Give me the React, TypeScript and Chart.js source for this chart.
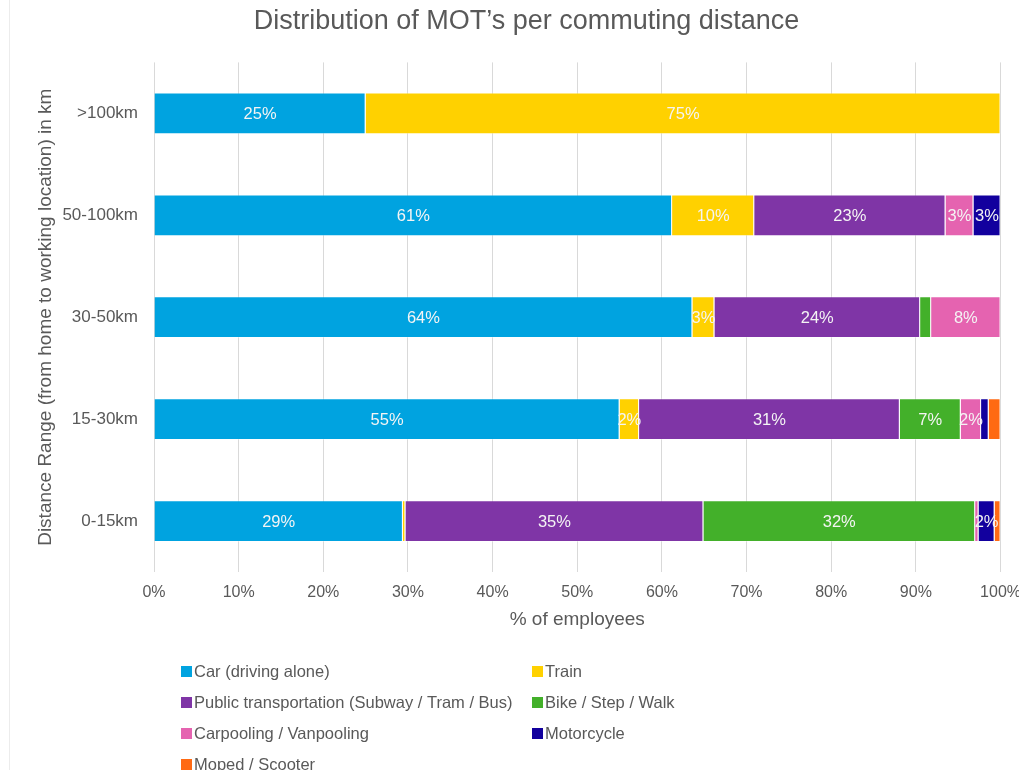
import { useEffect, useRef } from 'react';
import { Chart, registerables } from 'chart.js';

Chart.register(...registerables);

const categories = ['>100km', '50-100km', '30-50km', '15-30km', '0-15km'];
const seriesNames = [
  'Car (driving alone)',
  'Train',
  'Public transportation (Subway / Tram / Bus)',
  'Bike / Step / Walk',
  'Carpooling / Vanpooling',
  'Motorcycle',
  'Moped / Scooter',
];
const car = [25, 61.2, 63.6, 55.0, 29.4];
const train = [75, 9.7, 2.6, 2.3, 0.3];
const publicTransport = [0, 22.6, 24.3, 30.8, 35.2];
const bike = [0, 0, 1.3, 7.2, 32.1];
const carpool = [0, 3.3, 8.2, 2.4, 0.4];
const motorcycle = [0, 3.2, 0, 0.9, 1.9];
const moped = [0, 0, 0, 1.4, 0.7];
const seriesValues = [car, train, publicTransport, bike, carpool, motorcycle, moped];
const seriesColors = ['#00A3E0', '#FFD100', '#7F35A6', '#43B02A', '#E563B0', '#12009E', '#FF6A13'];

const xTickValues = [0, 10, 20, 30, 40, 50, 60, 70, 80, 90, 100];

const FONT = '"Liberation Sans", Arial, Helvetica, sans-serif';
const TEXT = '#595959';

const barLabels = {
  id: 'barLabels',
  afterDatasetsDraw(chart: any) {
    const ctx = chart.ctx;
    ctx.save();
    ctx.font = `16.5px ${FONT}`;
    ctx.fillStyle = '#f4f4f4';
    ctx.textAlign = 'center';
    ctx.textBaseline = 'middle';
    chart.data.datasets.forEach((ds: any, i: number) => {
      const meta = chart.getDatasetMeta(i);
      meta.data.forEach((el: any, j: number) => {
        const v = ds.data[j];
        if (v < 1.5) return;
        const p = el.getProps(['x', 'base', 'y'], true);
        ctx.fillText(Math.round(v) + '%', (p.x + p.base) / 2, p.y + 1);
      });
    });
    ctx.restore();
  },
};

const gridLegend = {
  id: 'gridLegend',
  afterDraw(chart: any) {
    const { ctx, chartArea } = chart;
    const x0 = chartArea.left + 27;
    const colW = 351;
    const y0 = chartArea.bottom + 99;
    const rowH = 31;
    ctx.save();
    ctx.font = `16.5px ${FONT}`;
    ctx.textAlign = 'left';
    ctx.textBaseline = 'middle';
    chart.data.datasets.forEach((ds: any, i: number) => {
      const col = i % 2;
      const row = Math.floor(i / 2);
      const x = x0 + col * colW;
      const y = y0 + row * rowH;
      ctx.fillStyle = ds.backgroundColor;
      ctx.fillRect(x, y - 5, 11, 11);
      ctx.fillStyle = TEXT;
      ctx.fillText(ds.label, x + 13, y + 1);
    });
    ctx.restore();
  },
};

export default function App() {
  const ref = useRef<HTMLCanvasElement>(null);

  useEffect(() => {
    if (!ref.current) return;
    Chart.defaults.font.family = FONT;
    const chart = new Chart(ref.current, {
      type: 'bar',
      data: {
        labels: categories,
        datasets: seriesNames.map((name, i) => ({
          label: name,
          data: seriesValues[i],
          backgroundColor: seriesColors[i],
          borderColor: 'rgba(255,255,255,0.35)',
          borderWidth: 1,
          categoryPercentage: 1,
          barPercentage: 0.41,
        })),
      },
      options: {
        indexAxis: 'y',
        animation: false,
        responsive: false,
        devicePixelRatio: 1,
        layout: { padding: { left: 21, right: 0, top: 0, bottom: 134 } },
        plugins: {
          legend: { display: false },
          tooltip: { enabled: false },
          title: {
            display: true,
            text: 'Distribution of MOT\u2019s per commuting distance',
            color: TEXT,
            font: { size: 27, weight: 'normal', family: FONT },
            padding: { top: 5, bottom: 25 },
          },
        },
        scales: {
          x: {
            stacked: true,
            min: 0,
            max: 100,
            afterFit: (s: any) => {
              s.height = 64;
            },
            afterBuildTicks: (s: any) => {
              s.ticks = xTickValues.map((v) => ({ value: v }));
            },
            grid: { color: '#d9d9d9', drawTicks: false, lineWidth: 1 },
            border: { display: false },
            ticks: {
              color: TEXT,
              font: { size: 16, family: FONT },
              padding: 11,
              maxRotation: 0,
              autoSkip: false,
              callback: (v: any) => v + '%',
            },
            title: {
              display: true,
              text: '% of employees',
              color: TEXT,
              font: { size: 19, family: FONT },
              padding: { top: 0, bottom: 4.6 },
            },
          },
          y: {
            stacked: true,
            afterFit: (s: any) => {
              s.width = 133;
            },
            grid: { display: false, drawTicks: false },
            border: { display: false },
            ticks: {
              color: TEXT,
              font: { size: 17, family: FONT },
              padding: 16,
            },
            title: {
              display: true,
              text: 'Distance Range (from home to working location) in km',
              color: TEXT,
              font: { size: 19, family: FONT },
              padding: { top: 13.6, bottom: 0 },
            },
          },
        },
      },
      plugins: [barLabels, gridLegend],
    });
    return () => chart.destroy();
  }, []);

  return (
    <div
      style={{
        position: 'absolute',
        left: 0,
        top: 0,
        width: 1019,
        height: 770,
        overflow: 'hidden',
        background: '#ffffff',
      }}
    >
      <canvas ref={ref} width={1032} height={770} style={{ display: 'block' }} />
      <div
        style={{
          position: 'absolute',
          left: 9,
          top: 0,
          width: 1,
          height: 770,
          background: '#ececec',
        }}
      />
    </div>
  );
}
